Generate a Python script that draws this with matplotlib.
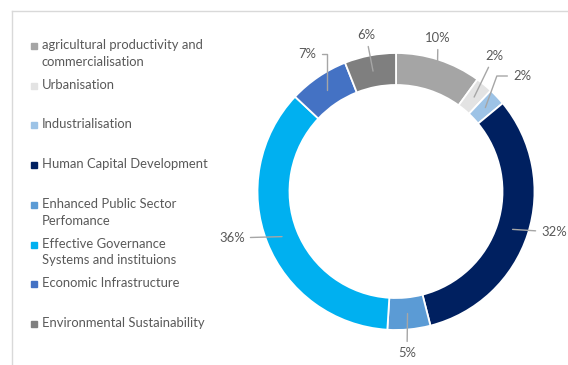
import numpy as np
import matplotlib.pyplot as plt
from matplotlib.lines import Line2D

# Данные
labels = ['agricultural productivity and\ncommercialisation', 'Urbanisation', 'Industrialisation',
          'Human Capital Development', 'Enhanced Public Sector\nPerfomance',
          'Effective Governance\nSystems and instituions', 'Economic Infrastructure',
          'Environmental Sustainability']
values = [10, 2, 2, 32, 5, 36, 7, 6]
pct_labels = ['10%', '2%', '2%', '32%', '5%', '36%', '7%', '6%']
colors = ['#A5A5A5', '#E3E3E3', '#9DC3E6', '#002060', '#5B9BD5', '#00B0F0', '#4472C4', '#7F7F7F']

W, H = 568, 365
plt.rcParams['font.family'] = ['Lato', 'DejaVu Sans']
txt_color = '#595959'
fs = 9.4

fig = plt.figure(figsize=(W / 100, H / 100), dpi=100)

def fx(x):
    return x / W

def fy(y):
    return 1 - y / H

# рамка (видны только верх и левая сторона)
fig.add_artist(Line2D([fx(12), fx(12)], [fy(11), fy(365)], color='#D9D9D9', lw=1))
fig.add_artist(Line2D([fx(12), fx(568)], [fy(11), fy(11)], color='#D9D9D9', lw=1))

# кольцевая диаграмма
cx, cy, R = 396, 191.5, 138.5
half = 160
ax = fig.add_axes([fx(cx - half), fy(cy + half), 2 * half / W, 2 * half / H])
wedges, _ = ax.pie(values, colors=colors, startangle=90, counterclock=False, radius=1,
                   wedgeprops=dict(width=0.231, edgecolor='white', linewidth=1.3))
ax.set_xlim(-half / R, half / R)
ax.set_ylim(-half / R, half / R)
ax.set_aspect('equal')
ax.axis('off')

# положение подписей (смещение от центра в пикселях) и форма выноски
label_pos = [(42, 153.5), (98, 135.5), (126, 115.5), (158, -40.5),
             (11, -161.5), (-164, -46.5), (-89, 137.5), (-30, 156.5)]
conn = ['arc3', 'arc3', 'angle,angleA=180,angleB=70,rad=0', 'arc3',
        'arc3', 'arc3', 'angle,angleA=0,angleB=90,rad=0', 'arc3']
r_start = [0.97, 0.885, 0.885, 0.885, 0.885, 0.885, 0.885, 0.885]
for w, lab, (dx, dy), cs, rs in zip(wedges, pct_labels, label_pos, conn, r_start):
    ang = np.deg2rad((w.theta1 + w.theta2) / 2)
    ax.annotate(lab, xy=(rs * np.cos(ang), rs * np.sin(ang)),
                xytext=(dx / R, dy / R), ha='center', va='center', fontsize=fs,
                color=txt_color, annotation_clip=False,
                arrowprops=dict(arrowstyle='-', color='#A6A6A6', lw=1,
                                connectionstyle=cs, shrinkA=2, shrinkB=0))

# легенда
y0, step = 46, 39.7
for i, (lab, c) in enumerate(zip(labels, colors)):
    y = y0 + i * step
    fig.add_artist(plt.Rectangle((fx(30.5), fy(y + 3)), 6 / W, 6 / H, color=c,
                                 transform=fig.transFigure))
    fig.text(fx(42), fy(y - 7), lab, fontsize=fs, color=txt_color, va='top', ha='left',
             linespacing=1.5)

fig.savefig('out.png', dpi=100)
